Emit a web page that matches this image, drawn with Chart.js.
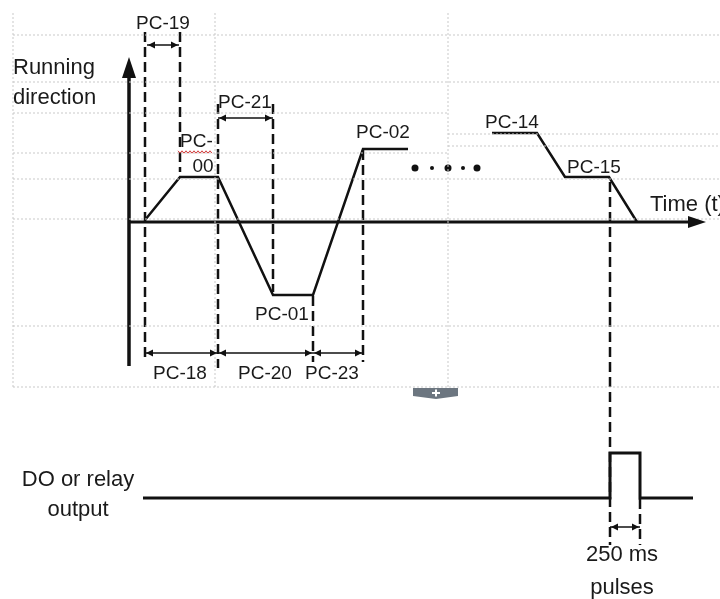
<!DOCTYPE html>
<html>
<head>
<meta charset="utf-8">
<script src="https://cdn.jsdelivr.net/npm/chart.js@4.4.1/dist/chart.umd.min.js"></script>
<style>
  html,body{margin:0;padding:0;background:#fff;}
  canvas{display:block;}
</style>
</head>
<body>
<canvas id="diagram" width="720" height="599"></canvas>
<script>
// ---------------- Diagram data (time units across, level units down) ----------------
const profileT = [145,180,218,273,313,363,408];
const profileV = [220,177,177,295,295,149,149];
const tailT = [492,537,565,609,637];
const tailV = [133,133,177,177,222];
const dotT = [415,432,448,463,477];
const dotR = [3.5,2,3.5,2,3.5];
const dotV = 168;
const doT = [143,610,610,640,640,693];
const doV = [498,498,453,453,498,498];

// dashed guide lines
const guideT    = [145,180,218,273,313,363,610,640];
const guideFrom = [32,32,104,104,296,150,182,499];
const guideTo   = [362,172,368,292,362,362,545,545];

// double arrow brackets
const bracketV = [45,118,353,353,353,527];
const bracketA = [147,218,145,218,313,610];
const bracketB = [179,273,218,313,363,640];

// background grid
const gridHV  = [35,82,113,134,146,153,179,219,326,387];
const gridHA  = [13,13,13,448,448,13,13,13,13,13];
const gridHB  = [720,720,448,720,720,448,720,720,720,720];
const gridVT  = [13,215,448];

// labels
const labelText = ["PC-19","Running","direction","PC-21","PC-","00","PC-02","PC-14","PC-15","Time (t)",
                   "PC-01","PC-18","PC-20","PC-23","DO or relay","output","250 ms","pulses"];
const labelT = [163,13,13,245,180,203,383,512,594,650,282,180,265,332,78,78,622,622];
const labelV = [24,68,98,103,142,167,133,123,168,205,315,374,374,374,480,510,555,588];
const labelSize = [19,22,22,19,19,19,19,19,19,22,19,19,19,19,22,22,22,22];
const labelAlign = ["center","left","left","center","left","center","center","center","center","left",
                    "center","center","center","center","center","center","center","center"];

const INK = "#111";

function seg(xs, ys){ return xs.map((x,i)=>({x:x, y:Array.isArray(ys)?ys[i]:ys})); }

const datasets = [];

// grid
gridHV.forEach((v,i)=>{
  datasets.push({data:seg([gridHA[i],gridHB[i]],v), borderColor:"#c9c9c9", borderWidth:1, borderDash:[2,2]});
});
gridVT.forEach(t=>{
  datasets.push({data:seg([t,t],[13,387]), borderColor:"#c9c9c9", borderWidth:1, borderDash:[2,2]});
});

// axes lines
datasets.push({data:seg([129,129],[366,74]), borderColor:INK, borderWidth:3.5});
datasets.push({data:seg([128,690],[222,222]), borderColor:INK, borderWidth:3});

// dashed guides
guideT.forEach((t,i)=>{
  datasets.push({data:seg([t,t],[guideFrom[i],guideTo[i]]), borderColor:INK, borderWidth:2.5, borderDash:[10,5]});
});

// brackets (lines only; heads by plugin)
bracketV.forEach((v,i)=>{
  datasets.push({data:seg([bracketA[i],bracketB[i]],v), borderColor:INK, borderWidth:1.5});
});

// running profile
datasets.push({data:seg(profileT,profileV), borderColor:INK, borderWidth:2.5});
datasets.push({data:seg(tailT,tailV), borderColor:INK, borderWidth:2.5});
datasets.push({data:seg([492,537],133), borderColor:"#ddd", borderWidth:1, borderDash:[2,2]});

// DO output
datasets.push({data:seg(doT,doV), borderColor:INK, borderWidth:3});

// dots
datasets.push({data:seg(dotT,dotV), showLine:false, pointRadius:dotR, pointBackgroundColor:INK, pointBorderWidth:0});

datasets.forEach(d=>{
  d.showLine = d.showLine!==false;
  if(d.pointRadius===undefined) d.pointRadius = 0;
  d.fill = false; d.tension = 0;
  d.borderCapStyle = "butt";
  d.clip = false;
});

// ---------------- Plugin: arrow heads, tab, labels ----------------
const decorPlugin = {
  id:"decor",
  afterDatasetsDraw(chart){
    const ctx = chart.ctx, xs = chart.scales.x, ys = chart.scales.y;
    const px = t=>xs.getPixelForValue(t), py = v=>ys.getPixelForValue(v);

    function head(tx,ty,dx,dy,len,half){
      ctx.beginPath();
      ctx.moveTo(tx,ty);
      ctx.lineTo(tx-dx*len-dy*half, ty-dy*len+dx*half);
      ctx.lineTo(tx-dx*len+dy*half, ty-dy*len-dx*half);
      ctx.closePath();
      ctx.fill();
    }
    ctx.save();
    ctx.fillStyle = INK;
    // axis heads
    head(px(129),py(57),0,-1,21,7);
    head(px(706),py(222),1,0,18,6);
    // bracket heads
    bracketV.forEach((v,i)=>{
      const y = py(v), a = px(bracketA[i]), b = px(bracketB[i]);
      head(a+1,y,-1,0,7,3.5);
      head(b-1,y,1,0,7,3.5);
    });

    // small grey tab
    ctx.fillStyle = "#6c7680";
    ctx.beginPath();
    ctx.moveTo(px(413),py(388)); ctx.lineTo(px(458),py(388));
    ctx.lineTo(px(458),py(396)); ctx.lineTo(px(436),py(399));
    ctx.lineTo(px(413),py(396)); ctx.closePath(); ctx.fill();
    ctx.strokeStyle = "#fff"; ctx.lineWidth = 2;
    ctx.beginPath();
    ctx.moveTo(px(432),py(393)); ctx.lineTo(px(440),py(393));
    ctx.moveTo(px(436),py(389.5)); ctx.lineTo(px(436),py(396.5));
    ctx.stroke();

    // red squiggle under "PC-"
    ctx.strokeStyle = "#d23c3c"; ctx.lineWidth = 1;
    ctx.beginPath();
    for(let x=178, k=0; x<=212; x+=2, k++){
      const y = py(152) + (k%2 ? 1.2 : -1.2);
      if(k===0) ctx.moveTo(px(x),y); else ctx.lineTo(px(x),y);
    }
    ctx.stroke();

    // labels
    ctx.fillStyle = "#1a1a1a";
    ctx.textBaseline = "middle";
    labelText.forEach((s,i)=>{
      ctx.font = labelSize[i]+'px "Liberation Sans", Arial, sans-serif';
      ctx.textAlign = labelAlign[i];
      ctx.fillText(s, px(labelT[i]), py(labelV[i]));
    });
    ctx.restore();
  }
};

new Chart(document.getElementById("diagram"),{
  type:"scatter",
  data:{datasets:datasets},
  options:{
    responsive:false,
    animation:false,
    devicePixelRatio:1,
    layout:{padding:0, autoPadding:false},
    plugins:{legend:{display:false},tooltip:{enabled:false}},
    events:[],
    scales:{
      x:{type:"linear",min:0,max:720,display:false},
      y:{type:"linear",min:0,max:599,reverse:true,display:false}
    }
  },
  plugins:[decorPlugin]
});
</script>
</body>
</html>
